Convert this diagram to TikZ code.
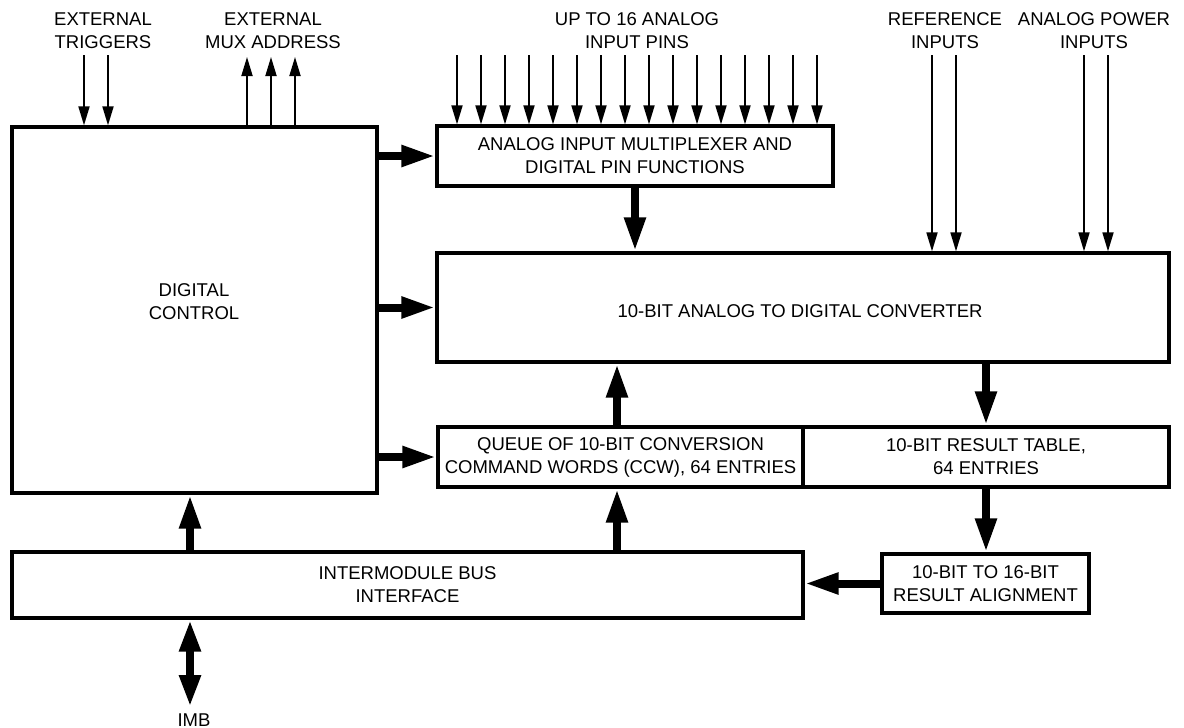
\documentclass[tikz,border=0pt]{standalone}
\usepackage{fontspec}
\setmainfont{Liberation Sans}
\usetikzlibrary{arrows.meta}
\newcommand{\lblfont}{\fontsize{18.5}{23}\selectfont}
\begin{document}
\begin{tikzpicture}[x=1pt,y=-1pt,
  box/.style={draw, line width=3.3pt, inner sep=0pt, align=center, font=\lblfont},
  lbl/.style={align=center, inner sep=0pt, font=\lblfont},
  thinarrow/.style={line width=1.8pt, -{Triangle[length=19pt,width=11pt]}},
  fatarrow/.style={line width=8pt, -{Triangle[length=34pt,width=20pt]}},
  fatboth/.style={line width=8pt, {Triangle[length=32pt,width=20pt]}-{Triangle[length=32pt,width=20pt]}}]
\useasboundingbox (0,0) rectangle (1184,728);

% blocks
\node[box, minimum width=365pt, minimum height=366pt] (dc) at (194.5,310) {};
\node[lbl] (dct) at (194,302) {DIGITAL\\CONTROL};
\node[box, minimum width=396pt, minimum height=60pt] (mux) at (635,156) {ANALOG INPUT MULTIPLEXER AND\\DIGITAL PIN FUNCTIONS};
\node[box, minimum width=732pt, minimum height=109pt] (adc) at (803,307.5) {};
\node[lbl] (adct) at (800,311) {10-BIT ANALOG TO DIGITAL CONVERTER};
\node[box, minimum width=365pt, minimum height=60pt] (queue) at (620.5,457) {QUEUE OF 10-BIT CONVERSION\\COMMAND WORDS (CCW), 64 ENTRIES};
\node[box, minimum width=366pt, minimum height=60pt] (res) at (986,457) {10-BIT RESULT TABLE,\\64 ENTRIES};
\node[box, minimum width=207pt, minimum height=59pt] (algn) at (985.5,583.5) {10-BIT TO 16-BIT\\RESULT ALIGNMENT};
\node[box, minimum width=791pt, minimum height=66pt] (imb) at (407.5,585) {INTERMODULE BUS\\INTERFACE};

% labels
\node[lbl] (trigl) at (103,31) {EXTERNAL\\TRIGGERS};
\node[lbl] (muxl) at (273,31) {EXTERNAL\\MUX ADDRESS};
\node[lbl] (pinsl) at (637,31) {UP TO 16 ANALOG\\INPUT PINS};
\node[lbl] (refl) at (945,31) {REFERENCE\\INPUTS};
\node[lbl] (pwrl) at (1094,31) {ANALOG POWER\\INPUTS};
\node[lbl] (imbl) at (194,720) {IMB};

% thin input arrows
\foreach \i in {0,...,15} {
  \coordinate (p\i) at (457+24*\i,55);
  \draw[thinarrow] (p\i) -- (p\i |- mux.north);
}
\coordinate (t1) at (84,55);
\coordinate (t2) at (108,55);
\draw[thinarrow] (t1) -- (t1 |- dc.north);
\draw[thinarrow] (t2) -- (t2 |- dc.north);
\coordinate (m1) at (247,57);
\coordinate (m2) at (271,57);
\coordinate (m3) at (295,57);
\draw[thinarrow] (m1 |- dc.north) -- (m1);
\draw[thinarrow] (m2 |- dc.north) -- (m2);
\draw[thinarrow] (m3 |- dc.north) -- (m3);
\coordinate (r1) at (932,55);
\coordinate (r2) at (956,55);
\coordinate (v1) at (1084,55);
\coordinate (v2) at (1108,55);
\draw[thinarrow] (r1) -- (r1 |- adc.north);
\draw[thinarrow] (r2) -- (r2 |- adc.north);
\draw[thinarrow] (v1) -- (v1 |- adc.north);
\draw[thinarrow] (v2) -- (v2 |- adc.north);

% thick arrows
\coordinate (qx) at (617,0);
\coordinate (ix) at (190,0);
\coordinate (imbend) at (190,707);
\draw[fatarrow] (dc.east |- mux.west) -- (mux.west);
\draw[fatarrow] (dc.east |- adc.west) -- (adc.west);
\draw[fatarrow] (dc.east |- queue.west) -- (queue.west);
\draw[fatarrow] (mux.south) -- (mux.south |- adc.north);
\draw[fatarrow] (queue.north -| qx) -- (adc.south -| qx);
\draw[fatarrow] (imb.north -| qx) -- (queue.south -| qx);
\draw[fatarrow] (imb.north -| ix) -- (dc.south -| ix);
\draw[fatarrow] (adc.south -| res.north) -- (res.north);
\draw[fatarrow] (res.south) -- (res.south |- algn.north);
\draw[fatarrow] (algn.west) -- (algn.west -| imb.east);
\draw[fatboth] (imb.south -| ix) -- (imbend);
\end{tikzpicture}
\end{document}
